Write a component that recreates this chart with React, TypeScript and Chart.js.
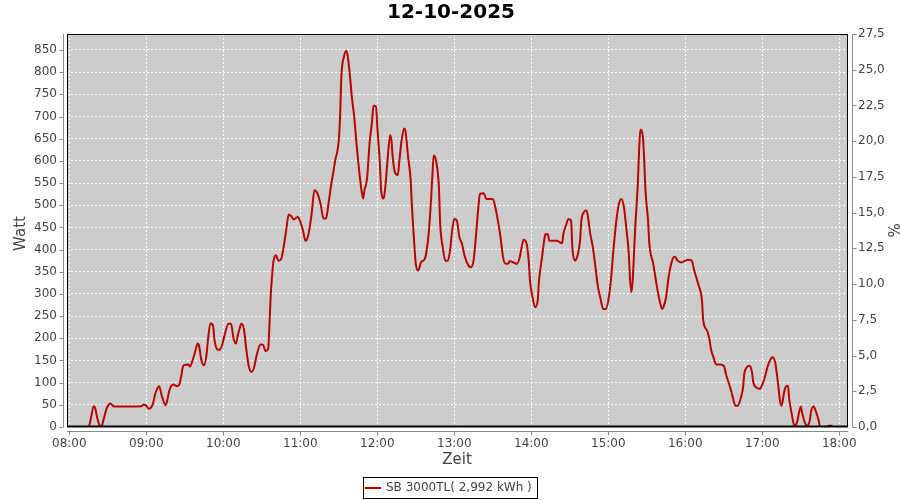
import React, { useEffect, useRef } from "react";
import { Chart, registerables } from "chart.js";

Chart.register(...registerables);

const chartTitle = "12-10-2025";
const seriesLabel = "SB 3000TL( 2,992 kWh )";
const xTitle = "Zeit";
const yTitle = "Watt";
const y2Title = "%";

const xTickLabels = ["08:00", "09:00", "10:00", "11:00", "12:00", "13:00", "14:00", "15:00", "16:00", "17:00", "18:00"];
const yTicks = [0, 50, 100, 150, 200, 250, 300, 350, 400, 450, 500, 550, 600, 650, 700, 750, 800, 850];
const y2Ticks = [0, 2.5, 5, 7.5, 10, 12.5, 15, 17.5, 20, 22.5, 25, 27.5];

const times = [
  "08:10", "08:15", "08:17", "08:19", "08:20", "08:22", "08:24", "08:25", "08:27", "08:29",
  "08:32", "08:35", "08:37", "08:56", "08:58", "09:00", "09:02", "09:05", "09:07", "09:10",
  "09:12", "09:15", "09:16", "09:18", "09:21", "09:24", "09:26", "09:27", "09:29", "09:33",
  "09:34", "09:36", "09:38", "09:40", "09:41", "09:43", "09:45", "09:47", "09:48", "09:50",
  "09:52", "09:53", "09:55", "09:57", "09:59", "10:01", "10:04", "10:06", "10:08", "10:10",
  "10:11", "10:13", "10:14", "10:16", "10:18", "10:20", "10:22", "10:24", "10:26", "10:29",
  "10:31", "10:33", "10:35", "10:36", "10:37", "10:38", "10:39", "10:41", "10:43", "10:45",
  "10:47", "10:49", "10:51", "10:53", "10:55", "10:58", "11:00", "11:02", "11:04", "11:05",
  "11:07", "11:09", "11:11", "11:13", "11:16", "11:18", "11:20", "11:22", "11:24", "11:26",
  "11:27", "11:30", "11:31", "11:32", "11:34", "11:36", "11:37", "11:39", "11:40", "11:42",
  "11:44", "11:45", "11:47", "11:49", "11:50", "11:52", "11:54", "11:56", "11:57", "11:59",
  "12:00", "12:02", "12:03", "12:05", "12:06", "12:08", "12:10", "12:11", "12:12", "12:14",
  "12:16", "12:17", "12:19", "12:21", "12:22", "12:24", "12:26", "12:27", "12:28", "12:30",
  "12:32", "12:34", "12:37", "12:38", "12:40", "12:42", "12:43", "12:44", "12:46", "12:48",
  "12:49", "12:51", "12:53", "12:55", "12:57", "12:58", "13:00", "13:02", "13:04", "13:06",
  "13:08", "13:11", "13:13", "13:15", "13:17", "13:19", "13:20", "13:23", "13:25", "13:28",
  "13:30", "13:32", "13:34", "13:36", "13:38", "13:40", "13:42", "13:43", "13:46", "13:49",
  "13:51", "13:53", "13:54", "13:56", "13:58", "13:59", "14:01", "14:03", "14:05", "14:06",
  "14:08", "14:10", "14:11", "14:13", "14:14", "14:17", "14:20", "14:22", "14:24", "14:25",
  "14:27", "14:29", "14:31", "14:32", "14:34", "14:36", "14:38", "14:39", "14:41", "14:43",
  "14:44", "14:46", "14:48", "14:50", "14:52", "14:54", "14:56", "14:58", "15:00", "15:02",
  "15:04", "15:06", "15:08", "15:10", "15:12", "15:14", "15:16", "15:17", "15:18", "15:19",
  "15:21", "15:23", "15:24", "15:25", "15:27", "15:28", "15:29", "15:31", "15:32", "15:35",
  "15:38", "15:40", "15:42", "15:43", "15:45", "15:47", "15:49", "15:51", "15:52", "15:54",
  "15:57", "16:00", "16:02", "16:05", "16:07", "16:10", "16:13", "16:14", "16:17", "16:19",
  "16:20", "16:22", "16:24", "16:27", "16:30", "16:32", "16:35", "16:37", "16:39", "16:41",
  "16:43", "16:45", "16:46", "16:48", "16:50", "16:52", "16:53", "16:56", "16:58", "17:00",
  "17:02", "17:04", "17:06", "17:08", "17:10", "17:12", "17:14", "17:15", "17:17", "17:18",
  "17:20", "17:21", "17:23", "17:25", "17:27", "17:29", "17:30", "17:31", "17:33", "17:35",
  "17:37", "17:38", "17:40", "17:42", "17:44", "17:45", "17:50", "17:52", "17:54", "17:55",
];

const watts = [
  0, 0, 22, 47, 44, 18, 2, 2, 20, 41,
  53, 46, 46, 47, 50, 48, 41, 51, 75, 92,
  71, 49, 56, 83, 96, 92, 98, 112, 139, 141,
  136, 150, 169, 188, 184, 150, 139, 165, 195, 234,
  229, 199, 176, 174, 184, 207, 233, 233, 199, 188,
  203, 225, 233, 222, 173, 135, 124, 134, 162, 186,
  185, 171, 176, 233, 300, 340, 372, 387, 375, 378,
  405, 444, 479, 475, 468, 474, 463, 444, 420, 422,
  444, 485, 534, 529, 500, 470, 470, 504, 545, 579,
  598, 647, 700, 790, 835, 848, 835, 782, 748, 700,
  632, 602, 549, 515, 534, 560, 640, 692, 724, 722,
  677, 594, 534, 515, 534, 602, 658, 647, 609, 572,
  568, 594, 647, 673, 666, 609, 557, 497, 450, 368,
  353, 371, 379, 390, 435, 518, 571, 612, 597, 541,
  458, 405, 375, 375, 405, 435, 469, 465, 428, 413,
  386, 364, 360, 375, 435, 503, 526, 527, 514, 514,
  514, 495, 465, 428, 383, 368, 368, 374, 371, 368,
  383, 413, 422, 417, 375, 330, 292, 270, 285, 330,
  375, 420, 435, 434, 420, 420, 420, 417, 414, 435,
  454, 469, 465, 405, 375, 386, 420, 465, 484, 488,
  477, 435, 405, 360, 315, 289, 266, 266, 285, 330,
  398, 458, 499, 514, 499, 450, 390, 330, 304, 330,
  450, 548, 623, 670, 653, 601, 533, 465, 413, 368,
  315, 285, 266, 270, 292, 338, 368, 383, 384, 375,
  371, 375, 377, 375, 353, 323, 285, 240, 217, 195,
  176, 157, 141, 141, 138, 116, 89, 67, 48, 48,
  63, 89, 120, 135, 138, 123, 101, 88, 86, 95,
  112, 135, 150, 157, 146, 105, 56, 48, 78, 89,
  93, 63, 29, 3, 10, 37, 46, 33, 11, 3,
  14, 35, 46, 33, 14, 0, 0, 3, 3, 0,
];

const toMin = (t: string) => {
  const [h, m] = t.split(":").map(Number);
  return h * 60 + m;
};

const FONT = "'DejaVu Sans', sans-serif";
const AXIS_GRAY = "#8a8a8a";
const TEXT_GRAY = "#444444";
const LINE_RED = "#bb0000";

const decorPlugin = {
  id: "decor",
  beforeDraw(chart: any) {
    const { ctx, chartArea: a } = chart;
    ctx.save();
    ctx.fillStyle = "#ffffff";
    ctx.fillRect(0, 0, chart.width, chart.height);
    ctx.fillStyle = "#cccccc";
    ctx.fillRect(a.left, a.top, a.right - a.left, a.bottom - a.top);
    ctx.restore();
  },
  afterDatasetsDraw(chart: any) {
    const { ctx, chartArea: a } = chart;
    ctx.save();
    ctx.strokeStyle = "#000000";
    ctx.lineWidth = 1;
    ctx.strokeRect(Math.round(a.left) + 0.5, Math.round(a.top) + 0.5, Math.round(a.right - a.left) - 1, Math.round(a.bottom - a.top) - 1);
    ctx.beginPath();
    ctx.moveTo(a.left, Math.round(a.bottom) - 0.5);
    ctx.lineTo(a.right, Math.round(a.bottom) - 0.5);
    ctx.lineWidth = 2;
    ctx.stroke();
    ctx.restore();
  },
  afterDraw(chart: any) {
    const { ctx, chartArea: a, scales } = chart;
    ctx.save();
    ctx.strokeStyle = AXIS_GRAY;
    ctx.lineWidth = 1;
    // left axis
    const lx = Math.round(a.left) - 4 + 0.5;
    ctx.beginPath();
    ctx.moveTo(lx, a.top);
    ctx.lineTo(lx, a.bottom);
    scales.y.ticks.forEach((t: any) => {
      const py = Math.round(scales.y.getPixelForValue(t.value)) + 0.5;
      ctx.moveTo(lx - 4, py);
      ctx.lineTo(lx, py);
    });
    // right axis
    const rx = Math.round(a.right) + 4 + 0.5;
    ctx.moveTo(rx, a.top);
    ctx.lineTo(rx, a.bottom);
    scales.y1.ticks.forEach((t: any) => {
      const py = Math.round(scales.y1.getPixelForValue(t.value)) + 0.5;
      ctx.moveTo(rx, py);
      ctx.lineTo(rx + 4, py);
    });
    // bottom axis
    const by = Math.round(a.bottom) + 4 + 0.5;
    ctx.moveTo(a.left, by);
    ctx.lineTo(a.right, by);
    scales.x.ticks.forEach((t: any) => {
      const px = Math.round(scales.x.getPixelForValue(t.value)) + 0.5;
      ctx.moveTo(px, by);
      ctx.lineTo(px, by + 4);
    });
    ctx.stroke();

    // title
    ctx.fillStyle = "#000000";
    ctx.font = `bold 20px ${FONT}`;
    ctx.textAlign = "center";
    ctx.textBaseline = "middle";
    ctx.fillText(chartTitle, 451, 13);

    // axis titles
    ctx.fillStyle = TEXT_GRAY;
    ctx.font = `15px ${FONT}`;
    ctx.fillText(xTitle, 457, 460);
    ctx.save();
    ctx.translate(21, (a.top + a.bottom) / 2 + 3);
    ctx.rotate(-Math.PI / 2);
    ctx.fillText(yTitle, 0, 0);
    ctx.restore();
    ctx.save();
    ctx.translate(892, (a.top + a.bottom) / 2);
    ctx.rotate(Math.PI / 2);
    ctx.fillText(y2Title, 0, 0);
    ctx.restore();

    // legend
    ctx.strokeStyle = "#000000";
    ctx.lineWidth = 1;
    ctx.strokeRect(363.5, 477.5, 174, 21);
    ctx.strokeStyle = LINE_RED;
    ctx.lineWidth = 2;
    ctx.beginPath();
    ctx.moveTo(365, 488);
    ctx.lineTo(381, 488);
    ctx.stroke();
    ctx.fillStyle = TEXT_GRAY;
    ctx.font = `12px ${FONT}`;
    ctx.textAlign = "left";
    ctx.fillText(seriesLabel, 386, 488);
    ctx.restore();
  },
};

export default function App() {
  const canvasRef = useRef<HTMLCanvasElement | null>(null);

  useEffect(() => {
    if (!canvasRef.current) return;
    const points = times.map((t, i) => ({ x: toMin(t), y: watts[i] }));
    const tickFont = { family: FONT, size: 12 };
    const chart = new Chart(canvasRef.current, {
      type: "line",
      data: {
        datasets: [
          {
            label: seriesLabel,
            data: points,
            borderColor: LINE_RED,
            borderWidth: 2,
            pointRadius: 0,
            fill: false,
            cubicInterpolationMode: "monotone",
            yAxisID: "y",
            xAxisID: "x",
          },
        ],
      },
      options: {
        responsive: false,
        animation: false,
        events: [],
        layout: { padding: { top: 34, left: 0, right: 0, bottom: 0 } },
        plugins: {
          legend: { display: false },
          title: { display: false },
          tooltip: { enabled: false },
        },
        scales: {
          x: {
            type: "linear",
            position: "bottom",
            min: 478.2,
            max: 1086.8,
            afterBuildTicks: (s: any) => {
              s.ticks = xTickLabels.map((l) => ({ value: toMin(l) }));
            },
            afterFit: (s: any) => {
              s.height = 73;
            },
            grid: { color: "#ffffff", lineWidth: 1, drawTicks: false },
            border: { display: false, dash: [2, 2] },
            ticks: {
              color: TEXT_GRAY,
              font: tickFont,
              padding: 10,
              maxRotation: 0,
              autoSkip: false,
              callback: (v: any) => {
                const h = Math.floor(Number(v) / 60);
                const m = Number(v) % 60;
                return `${String(h).padStart(2, "0")}:${String(m).padStart(2, "0")}`;
              },
            },
          },
          y: {
            type: "linear",
            position: "left",
            min: 0,
            max: 886,
            afterBuildTicks: (s: any) => {
              s.ticks = yTicks.map((v) => ({ value: v }));
            },
            afterFit: (s: any) => {
              s.width = 67;
            },
            grid: { color: "#ffffff", lineWidth: 1, drawTicks: false },
            border: { display: false, dash: [2, 2] },
            ticks: {
              color: TEXT_GRAY,
              font: tickFont,
              padding: 10,
              autoSkip: false,
              callback: (v: any) => String(v),
            },
          },
          y1: {
            type: "linear",
            position: "right",
            min: 0,
            max: 27.5,
            afterBuildTicks: (s: any) => {
              s.ticks = y2Ticks.map((v) => ({ value: v }));
            },
            afterFit: (s: any) => {
              s.width = 52;
            },
            grid: { display: false, drawTicks: false },
            border: { display: false },
            ticks: {
              color: TEXT_GRAY,
              font: tickFont,
              padding: 10,
              autoSkip: false,
              callback: (v: any) => Number(v).toFixed(1).replace(".", ","),
            },
          },
        },
      },
      plugins: [decorPlugin],
    } as any);
    return () => chart.destroy();
  }, []);

  return (
    <div style={{ position: "fixed", left: 0, top: 0, width: 900, height: 500, background: "#fff" }}>
      <canvas ref={canvasRef} width={900} height={500} style={{ display: "block", width: 900, height: 500 }} />
    </div>
  );
}
